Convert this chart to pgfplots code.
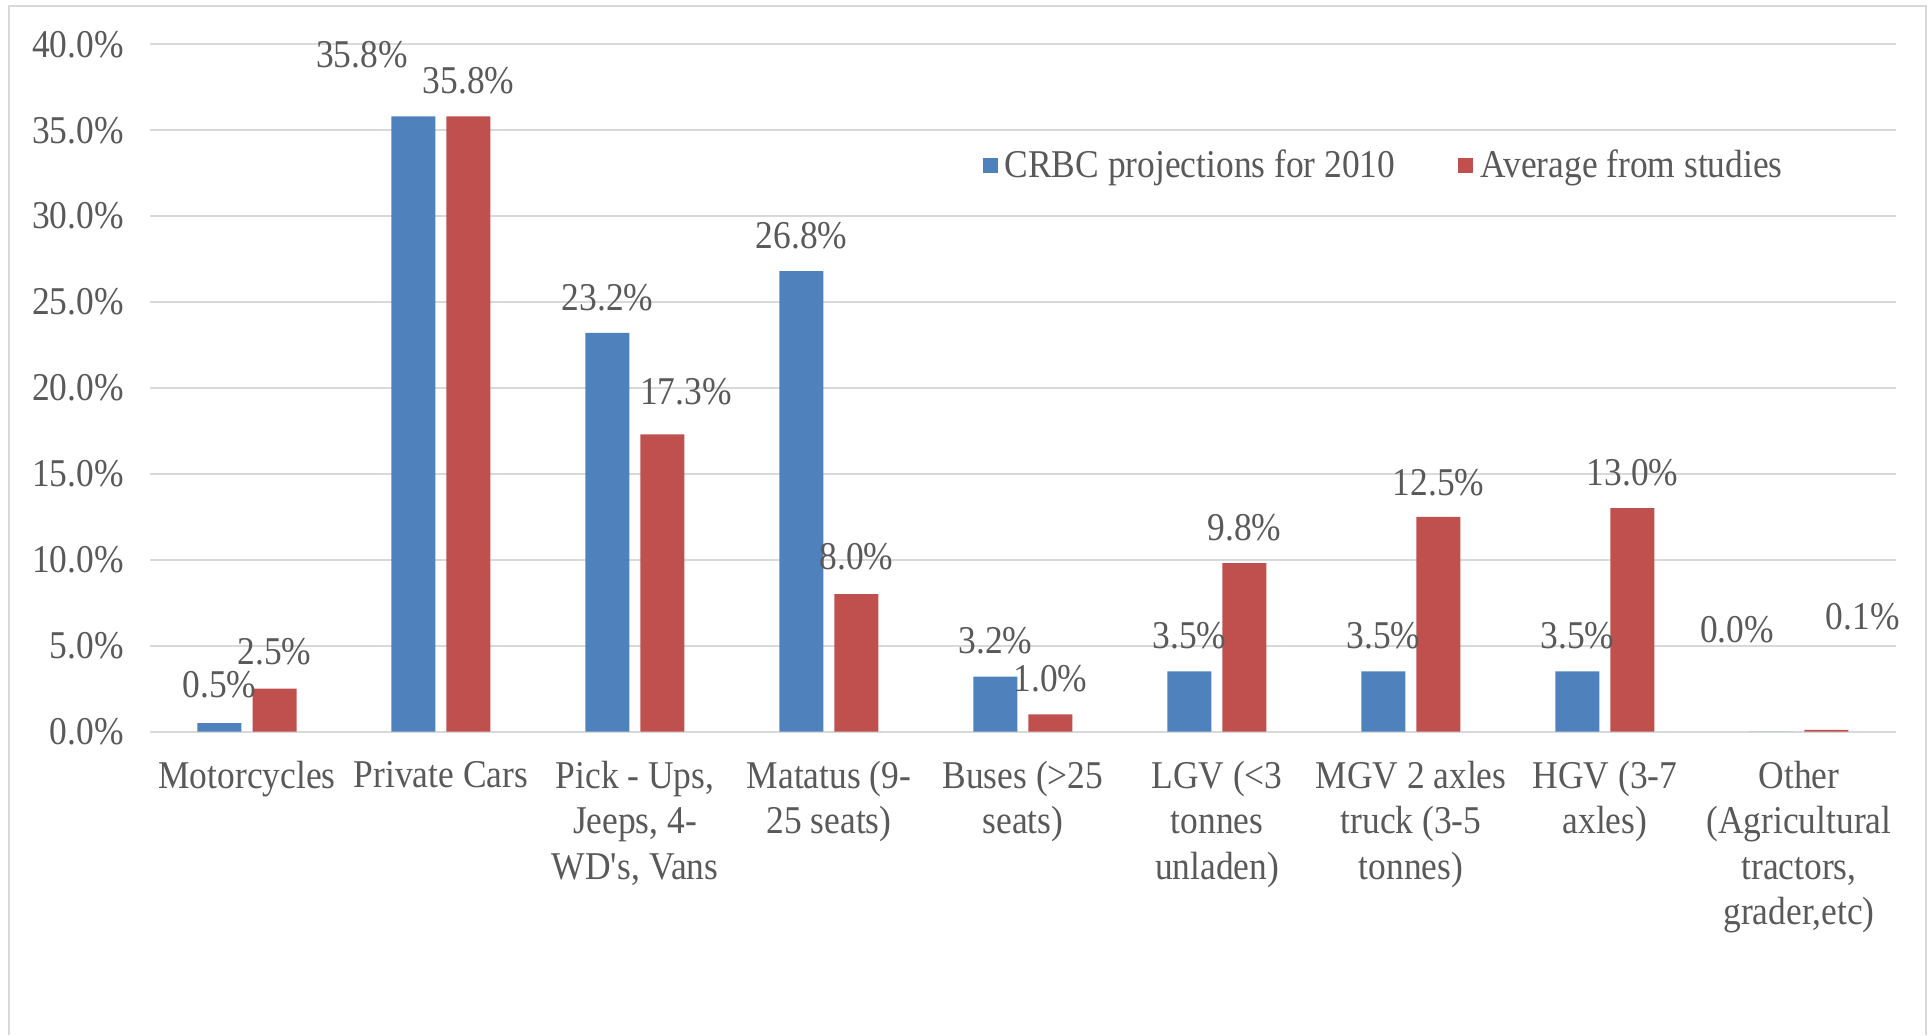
\documentclass[border=0pt]{standalone}
\usepackage{fontspec}
\setmainfont{Liberation Serif}[FakeStretch=0.9]
\usepackage{pgfplots}
\pgfplotsset{compat=1.18}
\usepackage{pgfplotstable}
\definecolor{crbc}{HTML}{4F81BD}
\definecolor{avg}{HTML}{C0504D}
\definecolor{txt}{HTML}{595959}
\definecolor{gridc}{HTML}{D9D9D9}

% share of vehicle fleet (%); dx, dy = label offset from bar top (mm)
\pgfplotstableread{
x y dx dy
0 0.5 0 3.8
1 35.8 -5.17 6.15
2 23.2 0 3.5
3 26.8 0 3.5
4 3.2 0 3.57
5 3.5 0 3.6
6 3.5 0 3.6
7 3.5 0 3.6
8 0.0 -3.44 10.2
}\tblcrbc
\pgfplotstableread{
x y dx dy
0 2.5 0 3.7
1 35.8 0 3.57
2 17.3 2.34 4.3
3 8.0 0 3.7
4 1.0 0 3.57
5 9.8 0 3.57
6 12.5 0 3.45
7 13.0 0 3.57
8 0.1 3.63 11.3
}\tblavg

\begin{document}
\begin{tikzpicture}[font=\fontsize{11.2}{12.9}\selectfont]
\useasboundingbox (0,0) rectangle (192.8mm,103.5mm);
\draw[gridc, line width=0.2mm] (0.9mm,0) -- (0.9mm,102.9mm) -- (192.6mm,102.9mm) -- (192.6mm,0);
\begin{axis}[
  at={(15mm,30.34mm)}, anchor=south west,
  scale only axis,
  width=174.6mm, height=68.73mm,
  ymin=0, ymax=40, ytick={0,5,...,40},
  xmin=-0.5, xmax=8.5, xtick={0,...,8},
  xticklabels={{Motorcycles},{Private Cars},{Pick - Ups,\\Jeeps, 4-\\WD\textquotesingle s, Vans},{Matatus (9-\\25 seats)},{Buses (>25\\seats)},{LGV (<3\\tonnes\\unladen)},{MGV 2 axles\\truck (3-5\\tonnes)},{HGV (3-7\\axles)},{Other\\(Agricultural\\tractors,\\grader,etc)}},
  /pgf/number format/assume math mode=true,
  yticklabel={\pgfmathprintnumber[fixed,fixed zerofill,precision=1]{\tick}\%},
  yticklabel style={text=txt, xshift=-1.4mm},
  xticklabel style={text=txt, align=center, yshift=-1.7mm},
  major tick length=0pt,
  axis line style={draw=none},
  ymajorgrids, grid style={gridc, line width=0.2mm},
  ybar=1.1mm, bar width=4.4mm,
  clip=false,
  legend columns=2,
  legend style={at={(0.4765,0.823)}, anchor=west, draw=none, fill=none,
    inner sep=0pt, text=txt, font=\fontsize{11.2}{12.9}\selectfont,
    /tikz/every even column/.append style={column sep=5.6mm}},
  legend image code/.code={\fill[#1] (0mm,-0.75mm) rectangle (1.5mm,0.75mm);},
  point meta=y,
  nodes near coords={\pgfmathprintnumber[fixed,fixed zerofill,precision=1]{\pgfplotspointmeta}\%},
  visualization depends on={\thisrow{dx}\as\ldx},
  visualization depends on={\thisrow{dy}\as\ldy},
  every node near coord/.append style={anchor=center, xshift=\ldx mm, yshift=\ldy mm, text=txt, font=\fontsize{11.2}{12.9}\selectfont},
]
\addplot[fill=crbc, draw=none] table[x=x, y=y] {\tblcrbc};
\addplot[fill=avg, draw=none] table[x=x, y=y] {\tblavg};
\legend{CRBC projections for 2010, Average from studies}
\end{axis}
\end{tikzpicture}
\end{document}
